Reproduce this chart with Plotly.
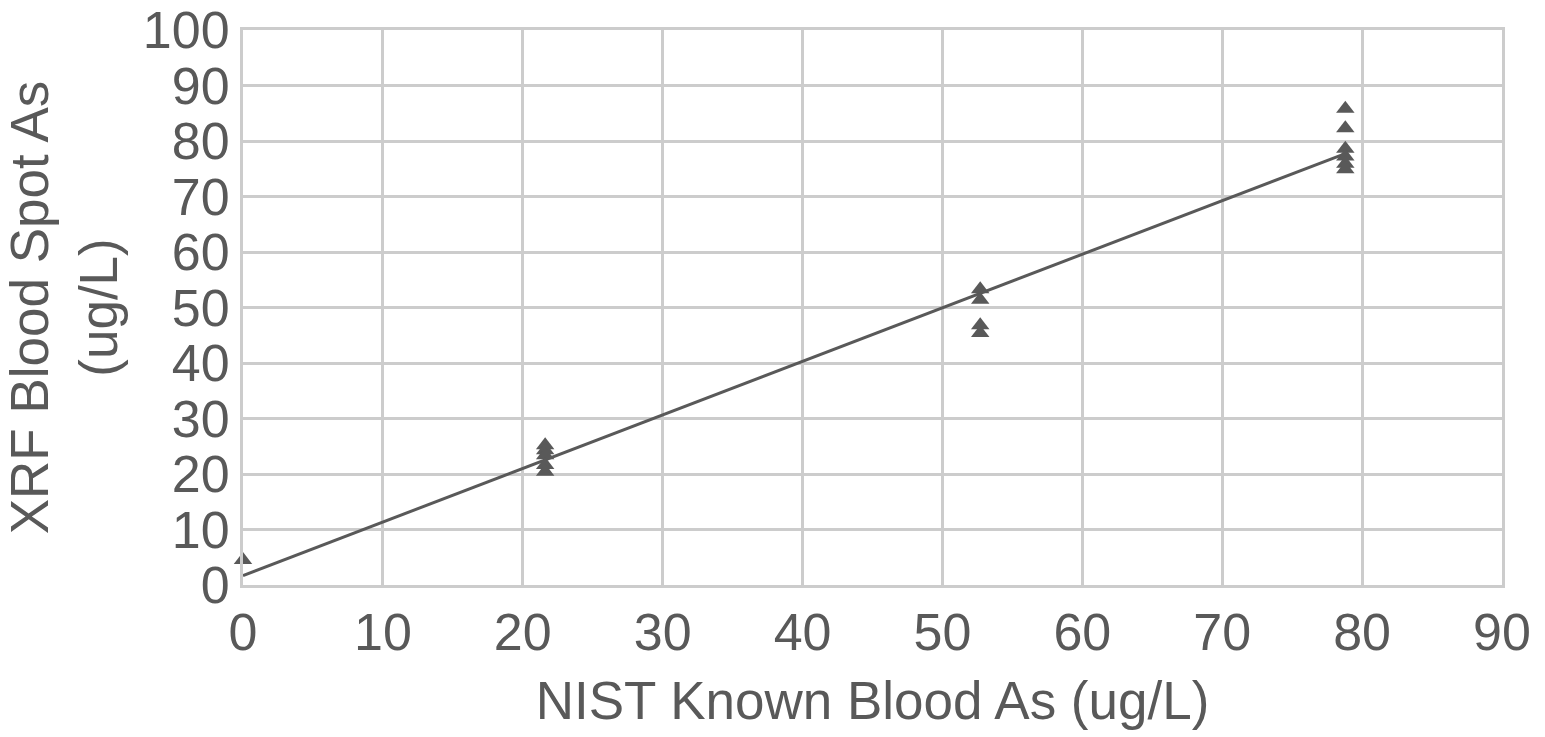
import numpy as np
import plotly.graph_objects as go

known_as = [0, 21.6, 21.6, 21.6, 21.6, 21.6, 52.7, 52.7, 52.7, 52.7,
            78.8, 78.8, 78.8, 78.8, 78.8, 78.8]
xrf_as = [4.5, 25.2, 24.3, 23.4, 21.6, 20.4, 53.3, 51.4, 46.8, 45.4,
          85.8, 82.3, 78.6, 77.2, 75.9, 74.9]

slope, intercept = np.polyfit(known_as, xrf_as, 1)
line_x = [0, 78.8]
line_y = [intercept + slope * v for v in line_x]

grey = "#595959"
grid = "#cccccc"

fig = go.Figure()
fig.add_trace(go.Scatter(x=line_x, y=line_y, mode="lines",
                         line=dict(color=grey, width=3), showlegend=False))
fig.add_trace(go.Scatter(x=known_as, y=xrf_as, mode="markers", cliponaxis=False,
                         marker=dict(symbol="triangle-up", size=16, color=grey),
                         showlegend=False))

fig.update_layout(
    width=1545, height=737,
    margin=dict(l=243, r=43, t=30, b=152),
    paper_bgcolor="white", plot_bgcolor="white",
    font=dict(family="Liberation Sans, Arial, sans-serif", color=grey, size=52),
)
fig.update_xaxes(range=[0, 90], dtick=10, showgrid=True, gridcolor=grid, gridwidth=3,
                 showline=True, linecolor=grid, linewidth=3, mirror=True, automargin=False,
                 zeroline=False, ticks="", tickfont=dict(size=52),
                 title=dict(text="NIST Known Blood As (ug/L)", font=dict(size=53), standoff=22))
fig.update_yaxes(range=[0, 100], dtick=10, showgrid=True, gridcolor=grid, gridwidth=3,
                 showline=True, linecolor=grid, linewidth=3, mirror=True, automargin=False,
                 zeroline=False, ticks="", tickfont=dict(size=52),
                 title=dict(text="XRF Blood Spot As<br>(ug/L)", font=dict(size=53), standoff=14))

fig.write_html("out.html")
